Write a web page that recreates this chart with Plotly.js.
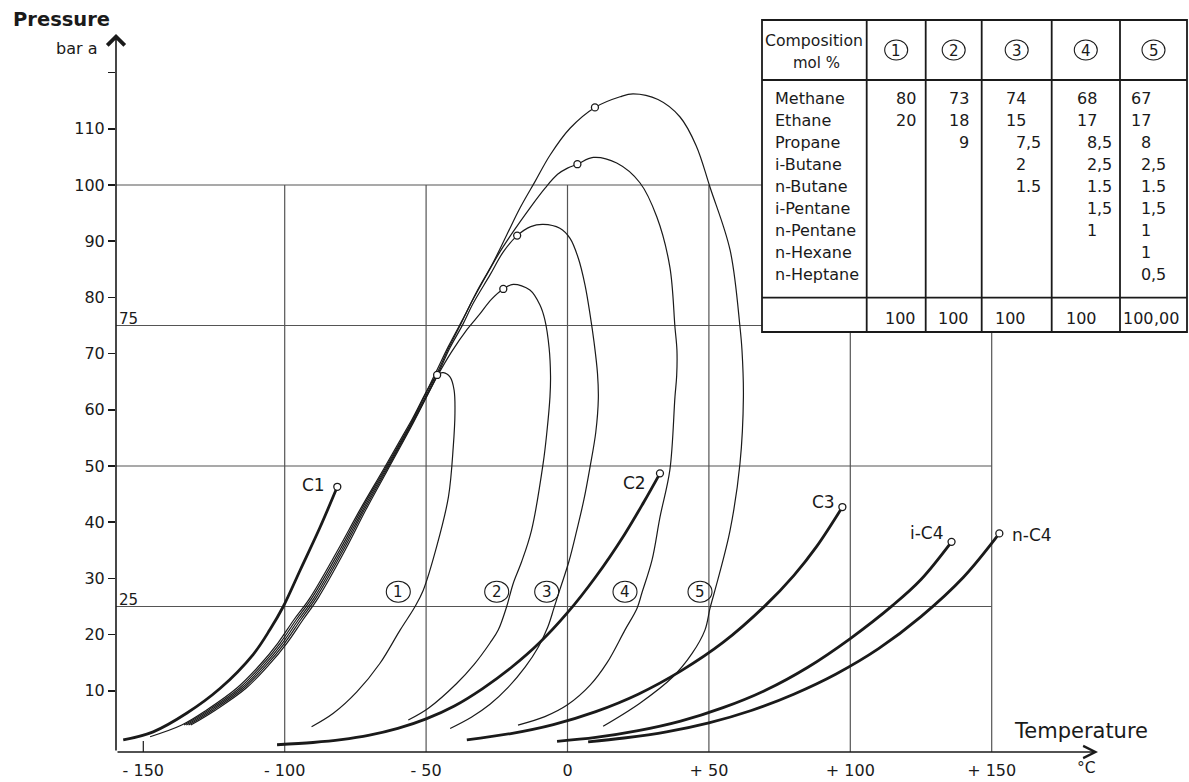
<!DOCTYPE html>
<html>
<head>
<meta charset="utf-8">
<script src="https://cdn.plot.ly/plotly-3.0.1.min.js"></script>
<style>html,body{margin:0;padding:0;background:#fff;}#chart{width:1189px;height:782px;}</style>
</head>
<body>
<div id="chart"></div>
<script>
// ---------------- DATA ----------------
// Pure component vapour-pressure curves (temperature °C, pressure bar a)
const c1T = [-157.1,-146.5,-134.7,-122.9,-111.1,-105.2,-100.5,-94.5,-87.5,-81.4];
const c1P = [1.25,2.7,6.0,10.4,16.5,20.9,25.0,31.5,39.1,46.3];
const c2T = [-102.7,-90,-80,-70,-60,-50,-40,-30,-20,-10,0,10,20,27,32.7];
const c2P = [0.4,0.8,1.3,2.1,3.3,5.0,7.3,10.4,14.1,18.5,23.9,30.3,37.7,43.6,48.7];
const c3T = [-35.6,-20,-5,10,25,40,55,70,80,88,97.2];
const c3P = [1.25,2.4,4.0,6.3,9.4,13.5,18.6,25.2,30.5,35.6,42.7];
const ic4T = [-3.7,10,25,40,55,70,85,100,115,125,135.8];
const ic4P = [1.0,1.7,2.9,4.6,7.0,10.1,14.2,19.3,25.2,29.8,36.5];
const nc4T = [7.3,20,35,50,65,80,95,110,125,140,152.7];
const nc4P = [0.9,1.6,2.7,4.3,6.5,9.4,13.0,17.5,23.2,30.2,38.0];
const componentLabels = ['C1','C2','C3','i-C4','n-C4'];

// Phase envelopes of mixtures 1-5: bubble branch (ends at critical point) and dew branch
const env1BubT = [-147.6,-136.4,-127.6,-117.0,-108.8,-102.4,-96.8,-91.1,-81.2,-73.4,-65.2,-55.7,-46.1];
const env1BubP = [1.83,3.91,6.58,10.44,14.59,18.5,22.6,26.5,35.05,42.2,49.3,57.65,66.2];
const env1DewT = [-43.9,-41.5,-40.1,-39.8,-40.4,-42.1,-46.3,-51.0,-53.9,-59.2,-66.3,-74.5,-82.8,-90.5];
const env1DewP = [66.6,65.8,63.5,59.4,53.4,44.5,35.6,27.9,25.0,20.8,14.9,9.8,6.0,3.6];

const env2BubT = [-133.2,-124.4,-113.8,-105.6,-99.2,-93.6,-88.2,-78.65,-71.3,-63.6,-54.6,-45.8,-41.0,-35.5,-30.9,-27.0,-22.7];
const env2BubP = [3.9,6.6,10.4,14.6,18.5,22.6,26.5,35.0,42.2,49.3,57.6,66.2,70.3,74.3,77.1,79.6,81.5];
const env2DewT = [-19.2,-13.3,-9.7,-8.0,-6.5,-6.0,-6.2,-7.3,-8.6,-12.7,-16.2,-19.2,-21.5,-24.5,-27.4,-33.0,-39.2,-49.2,-56.3];
const env2DewP = [82.3,81.3,78.6,76.0,71.0,66.0,62.3,56.0,50.5,38.6,33.0,29.1,25.0,20.8,18.5,14.7,11.3,6.9,4.8];

const env3BubT = [-134.0,-125.2,-114.6,-106.4,-100.0,-94.4,-88.95,-79.3,-71.85,-64.0,-54.85,-46.0,-41.6,-37.0,-33.3,-27.4,-22.7,-17.8];
const env3BubP = [3.9,6.6,10.4,14.6,18.5,22.6,26.5,35.0,42.2,49.3,57.6,66.2,71.0,75.2,79.0,84.0,88.1,91.0];
const env3DewT = [-13.0,-8.6,-2.7,0.9,3.8,6.2,8.0,9.4,10.6,10.9,10.0,8.0,5.8,3.3,0.5,-2.7,-4.8,-7.0,-10.3,-15.0,-21.0,-27.4,-34.0,-41.5];
const env3DewP = [92.6,93.0,92.3,90.5,87.0,82.2,76.9,72.0,66.5,62.0,56.0,49.9,44.0,38.6,33.0,28.0,24.7,21.3,17.8,14.2,10.6,7.6,5.3,3.3];

const env4BubT = [-134.8,-126.0,-115.4,-107.2,-100.8,-95.2,-89.65,-79.9,-72.35,-64.4,-55.15,-46.4,-41.8,-37.5,-34.5,-28.6,-23.9,-19.2,-13.3,-8.0,-3.5,0.0,3.5];
const env4BubP = [3.9,6.6,10.4,14.6,18.5,22.6,26.5,35.0,42.2,49.3,57.6,66.2,71.2,75.5,78.6,84.0,88.1,91.7,95.9,99.4,101.9,103.0,103.7];
const env4DewT = [9.1,17.4,25.6,31.6,36.2,38.0,38.7,38.6,38.0,36.2,32.7,29.9,26.3,24.6,20.3,14.0,8.0,0.0,-8.0,-17.5];
const env4DewP = [104.9,103.9,100.4,94.3,85.4,74.7,70.6,66.0,62.3,49.3,40.9,33.3,27.4,24.7,20.8,15.0,11.0,7.5,5.4,3.9];

const env5BubT = [-135.6,-126.8,-116.2,-108.0,-101.6,-96.0,-90.4,-80.55,-72.9,-64.8,-55.4,-46.8,-42.2,-38.2,-36.2,-32.1,-26.2,-21.5,-16.8,-11.5,-6.2,0.9,9.7];
const env5BubP = [3.9,6.6,10.4,14.6,18.5,22.6,26.5,35.0,42.2,49.3,57.6,66.4,71.2,75.0,76.9,81.0,86.3,91.1,95.9,100.6,105.3,110.1,113.8];
const env5DewT = [18.6,23.2,32.0,39.8,45.5,50.4,57.5,61.0,61.7,62.2,61.0,57.5,52.8,50.4,48.6,44.0,37.3,25.6,12.6];
const env5DewP = [115.7,116.2,115.2,112.1,107.0,99.6,88.4,74.7,70.6,62.3,50.5,38.6,29.1,24.7,20.8,16.6,12.5,7.8,3.7];
const mixtureLabels = ['1','2','3','4','5'];

// Axis ticks
const xTickVals = [-150,-100,-50,0,50,100,150];
const xTickText = ['- 150','- 100','- 50','0','+ 50','+ 100','+ 150'];
const yTickVals = [10,20,30,40,50,60,70,80,90,100,110,120];
const yTickText = ['10','20','30','40','50','60','70','80','90','100','110',''];
const gridT = [-100,-50,0,50,100,150];
const gridP = [25,50,75,100];

// Composition table (mol %)
const components = ['Methane','Ethane','Propane','i-Butane','n-Butane','i-Pentane','n-Pentane','n-Hexane','n-Heptane'];
const mix1 = ['80','20','','','','','','',''];
const mix2 = ['73','18','9','','','','','',''];
const mix3 = ['74','15','7,5','2','1.5','','','',''];
const mix4 = ['68','17','8,5','2,5','1.5','1,5','1','',''];
const mix5 = ['67','17','8','2,5','1.5','1,5','1','1','0,5'];
const totals = ['100','100','100','100','100,00'];

// ---------------- GEOMETRY HELPERS (pixel -> data / paper) ----------------
const X0PX = 567.5, XS = 2.828, Y0PX = 747, YS = 5.62;
const tx = px => (px - X0PX) / XS;
const ty = py => (Y0PX - py) / YS;
const PL = 116, PR = 1189, PT = 0, PB = 752;
const pxp = px => (px - PL) / (PR - PL);
const pyp = py => (PB - py) / (PB - PT);
const FONT = 'DejaVu Sans';
const INK = '#1a1a1a';

// ---------------- TRACES ----------------
const traces = [];
const envs = [
  [env1BubT, env1BubP, env1DewT, env1DewP],
  [env2BubT, env2BubP, env2DewT, env2DewP],
  [env3BubT, env3BubP, env3DewT, env3DewP],
  [env4BubT, env4BubP, env4DewT, env4DewP],
  [env5BubT, env5BubP, env5DewT, env5DewP]
];
envs.forEach(e => {
  traces.push({x: e[0].concat(e[2]), y: e[1].concat(e[3]), mode: 'lines',
    line: {color: INK, width: 1.2, shape: 'spline', smoothing: 1.0}, hoverinfo: 'skip'});
});
const comps = [[c1T,c1P],[c2T,c2P],[c3T,c3P],[ic4T,ic4P],[nc4T,nc4P]];
comps.forEach(c => {
  traces.push({x: c[0], y: c[1], mode: 'lines',
    line: {color: INK, width: 2.8, shape: 'spline', smoothing: 1.0}, hoverinfo: 'skip'});
});
// critical points (end of each pure curve, end of each bubble branch)
const critT = comps.map(c => c[0][c[0].length-1]).concat(envs.map(e => e[0][e[0].length-1]));
const critP = comps.map(c => c[1][c[1].length-1]).concat(envs.map(e => e[1][e[1].length-1]));
traces.push({x: critT, y: critP, mode: 'markers',
  marker: {symbol: 'circle', size: 7, color: '#fff', line: {color: INK, width: 1.3}}, hoverinfo: 'skip'});

// ---------------- SHAPES ----------------
const shapes = [];
gridT.forEach(t => shapes.push({type:'line', layer:'below', x0:t, x1:t, y0:ty(752), y1:100,
  line:{color:'#555', width:1.2}}));
gridP.forEach(p => shapes.push({type:'line', layer:'below', x0:tx(116), x1:150, y0:p, y1:p,
  line:{color:'#555', width:1.2}}));
shapes.push({type:'line', layer:'below', x0:-150, x1:-150, y0:ty(752), y1:ty(741), line:{color:INK, width:1.2}});

// table
const TL=762, TR=1187, TT=20, TB=332;
const colX = [866.7, 925.7, 981.7, 1051.7, 1120];
const rowLines = [80, 297.7];
shapes.push({type:'rect', layer:'above', x0:tx(TL), x1:tx(TR), y0:ty(TB), y1:ty(TT),
  fillcolor:'#fff', line:{color:INK, width:1.8}});
colX.forEach(c => shapes.push({type:'line', layer:'above', x0:tx(c), x1:tx(c), y0:ty(TB), y1:ty(TT), line:{color:INK, width:1.8}}));
rowLines.forEach(r => shapes.push({type:'line', layer:'above', x0:tx(TL), x1:tx(TR), y0:ty(r), y1:ty(r), line:{color:INK, width:1.8}}));

// ---------------- ANNOTATIONS ----------------
const ann = [];
function txt(text, px, py, size, opts) {
  ann.push(Object.assign({text: text, x: pxp(px), y: pyp(py), xref:'paper', yref:'paper', showarrow:false,
    xanchor:'center', yanchor:'middle', borderpad:0, borderwidth:0,
    font:{family: FONT, size: size, color: INK}}, opts || {}));
}
function ring(cx, cy, rx, ry) {
  shapes.push({type:'circle', layer:'above', x0:tx(cx-rx), x1:tx(cx+rx), y0:ty(cy+ry), y1:ty(cy-ry),
    line:{color:INK, width:1.1}});
}
// axes drawn as arrows
ann.push({x: tx(116), y: ty(34), ax: tx(116), ay: ty(752), xref:'x', yref:'y', axref:'x', ayref:'y',
  text:'', showarrow:true, arrowhead:4, arrowsize:2.1, arrowwidth:1.6, arrowcolor:INK, standoff:0});
ann.push({x: tx(1098), y: ty(752), ax: tx(116), ay: ty(752), xref:'x', yref:'y', axref:'x', ayref:'y',
  text:'', showarrow:true, arrowhead:5, arrowsize:1.5, arrowwidth:1.6, arrowcolor:INK, standoff:0});

txt('<b>Pressure</b>', 61, 19.5, 19.5);
txt('bar a', 76, 49, 16);
txt('Temperature', 1081, 731, 21);
txt('°C', 1086, 768.5, 15.5);
txt('75', 119, 319, 15, {xanchor:'left'});
txt('25', 119, 600, 15, {xanchor:'left'});

// pure component labels
const compLabelPos = [[313,485],[634,482.5],[823,501.7],[926.7,533.3],[1031.7,535]];
componentLabels.forEach((l,i) => txt(l, compLabelPos[i][0], compLabelPos[i][1], 17));

// circled mixture labels on chart
const mixLabelPx = [398.3, 496.7, 546.7, 625, 700];
mixtureLabels.forEach((l,i) => { ring(mixLabelPx[i], 591.7, 12, 10.5); txt(l, mixLabelPx[i], 592, 15); });

// table header
txt('Composition', 814, 40, 15.7);
txt('mol %', 816, 63, 15);
const colCenters = [896.2, 953.7, 1016.7, 1085.8, 1153.5];
mixtureLabels.forEach((l,i) => { ring(colCenters[i], 50, 11.5, 10); txt(l, colCenters[i], 50.5, 15); });
// table body
const rowY = i => 98.3 + i * 22;
components.forEach((c,i) => txt(c, 775, rowY(i), 16, {xanchor:'left'}));
const decX = [916, 969, 1026, 1097, 1151];
function decimalCell(s, dx, py) {
  if (!s) return;
  const k = s.search(/[.,]/);
  const ip = k < 0 ? s : s.slice(0, k);
  const fp = k < 0 ? '' : s.slice(k);
  txt(ip, dx, py, 16, {xanchor:'right'});
  if (fp) txt(fp, dx, py, 16, {xanchor:'left'});
}
[mix1, mix2, mix3, mix4, mix5].forEach((m, j) => m.forEach((v, i) => decimalCell(v, decX[j], rowY(i))));
totals.forEach((v, j) => decimalCell(v, decX[j] + (j === 4 ? 3 : 0), 318));

// ---------------- LAYOUT ----------------
const layout = {
  width: 1189, height: 782,
  margin: {l:PL, r:1189-PR, t:PT, b:782-PB, pad:0},
  paper_bgcolor:'#fff', plot_bgcolor:'#fff',
  showlegend:false,
  xaxis: {range:[tx(116), tx(1189)], showgrid:false, zeroline:false, showline:false,
    tickmode:'array', tickvals:xTickVals, ticktext:xTickText, ticks:'', ticklabelstandoff:7,
    tickfont:{family:FONT, size:16, color:INK}, fixedrange:true},
  yaxis: {range:[ty(752), ty(0)], showgrid:false, zeroline:false, showline:false,
    tickmode:'array', tickvals:yTickVals, ticktext:yTickText, ticks:'outside', ticklen:7, tickwidth:1.5,
    tickcolor:INK, tickfont:{family:FONT, size:16, color:INK}, fixedrange:true},
  shapes: shapes,
  annotations: ann,
  hovermode:false
};
Plotly.newPlot('chart', traces, layout, {staticPlot:true, displayModeBar:false});
</script>
</body>
</html>
